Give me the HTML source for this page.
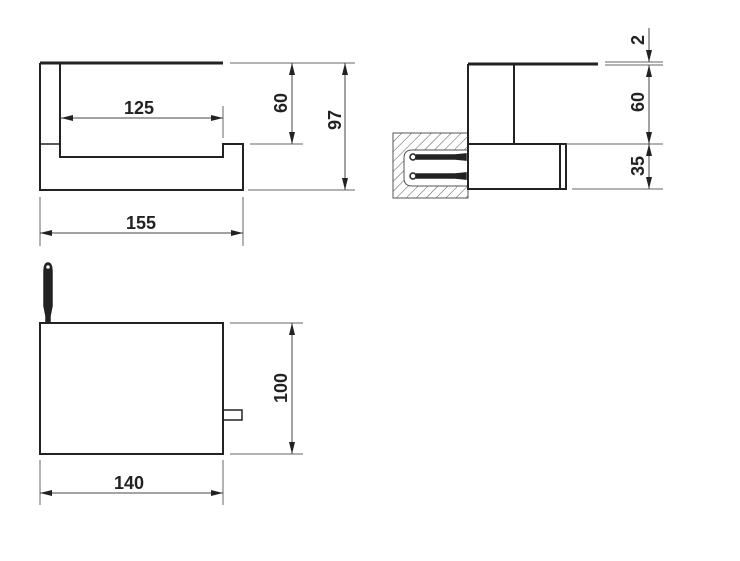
<!DOCTYPE html>
<html><head><meta charset="utf-8"><style>
html,body{margin:0;padding:0;background:#fff;}
svg{display:block;}
text{font-family:"Liberation Sans",Arial,sans-serif;font-size:18px;font-weight:bold;fill:#222;}
</style></head><body>
<svg width="740" height="561" viewBox="0 0 740 561" xmlns="http://www.w3.org/2000/svg">
<defs>
<marker id="a" viewBox="0 0 12 6" refX="12" refY="3" markerWidth="12" markerHeight="6" orient="auto-start-reverse" markerUnits="userSpaceOnUse"><path d="M0,0 L12,3 L0,6 Z" fill="#222"/></marker>
<pattern id="h" width="7" height="7" patternUnits="userSpaceOnUse" patternTransform="rotate(45)"><line x1="0" y1="0" x2="0" y2="7" stroke="#555" stroke-width="1"/></pattern>
</defs>
<g fill="none" stroke="#222">
<!-- Front view -->
<line x1="40" y1="63" x2="223" y2="63" stroke-width="3"/>
<path d="M40,63 V190 H243 V144 H223 V157 H60 V63" stroke-width="2"/>
<line x1="40" y1="144" x2="60" y2="144" stroke-width="1.5"/>
<!-- dims front -->
<g stroke="#666" stroke-width="1">
<line x1="230" y1="63" x2="355" y2="63"/>
<line x1="250" y1="144" x2="303" y2="144"/>
<line x1="248" y1="190" x2="355" y2="190"/>
<line x1="223" y1="106" x2="223" y2="138"/>
<line x1="40" y1="197" x2="40" y2="246"/>
<line x1="243" y1="197" x2="243" y2="246"/>
</g>
<g stroke="#444" stroke-width="1">
<line x1="61" y1="118" x2="223" y2="118" marker-start="url(#a)" marker-end="url(#a)"/>
<line x1="292" y1="63" x2="292" y2="144" marker-start="url(#a)" marker-end="url(#a)"/>
<line x1="345" y1="63" x2="345" y2="190" marker-start="url(#a)" marker-end="url(#a)"/>
<line x1="40" y1="233" x2="243" y2="233" marker-start="url(#a)" marker-end="url(#a)"/>
</g>
<!-- Side view -->
<rect x="393" y="133" width="75" height="65" fill="url(#h)" stroke="#555" stroke-width="1"/>
<path d="M468,150 H412 Q404,150 404,158 V178 Q404,186 412,186 H468 Z" fill="#fff" stroke="#555" stroke-width="1"/>
<line x1="468" y1="64" x2="598" y2="64" stroke-width="3"/>
<path d="M468,64 V189 H560 V144 H468" stroke-width="2"/>
<line x1="514" y1="64" x2="514" y2="144" stroke-width="2"/>
<rect x="560" y="144" width="6" height="45" stroke-width="2"/>
<!-- anchors -->
<g stroke="#222" stroke-width="1.5">
<circle cx="413" cy="157" r="3" fill="#fff"/>
<path d="M416,155 H455 L466,154 V160 L455,159 H416" fill="#222"/>
<circle cx="413" cy="176" r="3" fill="#fff"/>
<path d="M416,174 H455 L466,173 V179 L455,178 H416" fill="#222"/>
</g>
<g stroke="#666" stroke-width="1">
<line x1="605" y1="62" x2="663" y2="62"/>
<line x1="605" y1="65" x2="663" y2="65"/>
<line x1="566" y1="144" x2="663" y2="144"/>
<line x1="572" y1="189" x2="663" y2="189"/>
</g>
<g stroke="#444" stroke-width="1">
<line x1="649" y1="28" x2="649" y2="62" marker-end="url(#a)"/>
<line x1="649" y1="65" x2="649" y2="144" marker-start="url(#a)" marker-end="url(#a)"/>
<line x1="649" y1="144" x2="649" y2="189" marker-start="url(#a)" marker-end="url(#a)"/>
</g>
<!-- Top view -->
<rect x="40" y="323" width="183" height="131" stroke-width="2"/>
<rect x="223" y="410" width="19" height="10" stroke-width="1.5"/>
<g stroke="#222" stroke-width="1.5">
<path d="M46,323 V316 L44,306 V272 Q44,263 48,263 Q52,263 52,272 V306 L50,316 V323" fill="#222"/>
<circle cx="48" cy="267" r="2.5" fill="#fff"/>
</g>
<g stroke="#666" stroke-width="1">
<line x1="230" y1="323" x2="303" y2="323"/>
<line x1="230" y1="454" x2="303" y2="454"/>
<line x1="40" y1="460" x2="40" y2="505"/>
<line x1="223" y1="460" x2="223" y2="505"/>
</g>
<g stroke="#444" stroke-width="1">
<line x1="292" y1="323" x2="292" y2="454" marker-start="url(#a)" marker-end="url(#a)"/>
<line x1="40" y1="493" x2="223" y2="493" marker-start="url(#a)" marker-end="url(#a)"/>
</g>
</g>
<!-- labels -->
<text x="139" y="114" text-anchor="middle">125</text>
<text x="141" y="229" text-anchor="middle">155</text>
<text x="129" y="489" text-anchor="middle">140</text>
<text transform="translate(287,103) rotate(-90)" text-anchor="middle">60</text>
<text transform="translate(341,120) rotate(-90)" text-anchor="middle">97</text>
<text transform="translate(287,388) rotate(-90)" text-anchor="middle">100</text>
<text transform="translate(644,40) rotate(-90)" text-anchor="middle">2</text>
<text transform="translate(644,102) rotate(-90)" text-anchor="middle">60</text>
<text transform="translate(644,166) rotate(-90)" text-anchor="middle">35</text>
</svg>
</body></html>
